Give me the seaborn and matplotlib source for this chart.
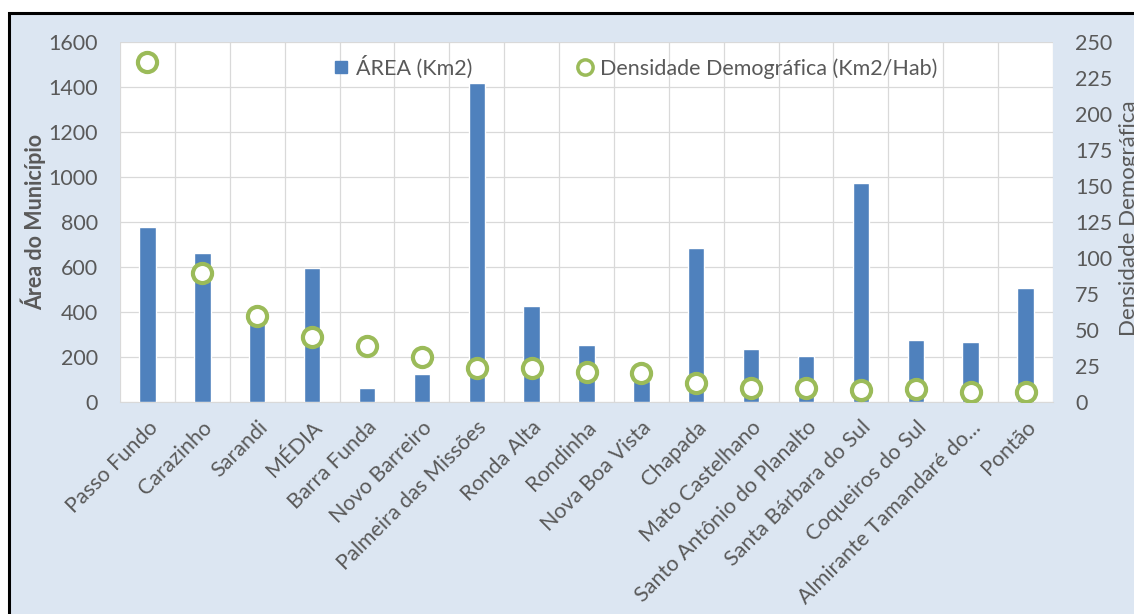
import numpy as np
import matplotlib
matplotlib.use("Agg")
import matplotlib.pyplot as plt
from matplotlib.patches import Rectangle
from matplotlib.lines import Line2D
import seaborn as sns

# Data
municipios = ["Passo Fundo", "Carazinho", "Sarandi", "MÉDIA", "Barra Funda",
              "Novo Barreiro", "Palmeira das Missões", "Ronda Alta", "Rondinha",
              "Nova Boa Vista", "Chapada", "Mato Castelhano",
              "Santo Antônio do Planalto", "Santa Bárbara do Sul",
              "Coqueiros do Sul", "Almirante Tamandaré do...", "Pontão"]
area_km2 = [780, 661, 370, 597, 62, 125, 1416, 427, 253, 93, 686, 237, 204,
            975, 276, 265, 507]
densidade = [236.3, 89.4, 59.7, 45.4, 38.9, 31.5, 23.4, 23.8, 21.0, 20.3, 13.0,
             9.5, 9.5, 8.3, 8.8, 6.7, 6.7]
yticks_left = [0, 200, 400, 600, 800, 1000, 1200, 1400, 1600]
yticks_right = [0, 25, 50, 75, 100, 125, 150, 175, 200, 225, 250]

blue = "#4f81bd"
green = "#9bbb59"
txt = "#595959"
gridc = "#d9d9d9"

sns.set_style("white")
plt.rcParams["font.family"] = ["Lato", "DejaVu Sans"]
plt.rcParams["hatch.color"] = "#d6d6d6"
plt.rcParams["hatch.linewidth"] = 0.6

fig = plt.figure(figsize=(11.34, 6.14), dpi=100, facecolor="white")
# outer chart frame (light blue with black border on left/top)
fig.patches.append(Rectangle((8.5 / 1134, -0.1), 1.2, 1 - 12.5 / 614 + 0.1,
                             transform=fig.transFigure, facecolor="#dce6f2",
                             edgecolor="black", linewidth=2.2, zorder=-10))

ax = fig.add_axes([120 / 1134, 1 - 402 / 614, 933 / 1134, 360 / 614])
ax.set_facecolor("white")
ax.add_patch(Rectangle((0, 0), 1, 1, transform=ax.transAxes, facecolor="none",
                       edgecolor="none", hatch="\\\\\\\\\\", zorder=0))

x = np.arange(len(municipios))
sns.barplot(x=municipios, y=area_km2, color=blue, width=0.3, saturation=1,
            ax=ax, zorder=3)
ax.set_xlim(-0.5, len(municipios) - 0.5)
ax.set_ylim(0, 1600)
ax.set_yticks(yticks_left)
ax.set_xticks(x)
ax.set_xticklabels(municipios, rotation=45, ha="right", rotation_mode="anchor",
                   fontsize=15.5, color=txt)
ax.set_xticks(np.arange(len(municipios) + 1) - 0.5, minor=True)
ax.tick_params(axis="x", which="major", length=0, pad=11)
ax.tick_params(axis="x", which="minor", length=7, color=gridc, width=1)
ax.tick_params(axis="y", length=0, pad=16, labelsize=15.5, labelcolor=txt)
ax.grid(True, axis="y", which="major", color=gridc, linewidth=0.9, zorder=1)
ax.grid(True, axis="x", which="minor", color=gridc, linewidth=0.9, zorder=1)
ax.set_axisbelow(True)
for s in ["top", "right", "left"]:
    ax.spines[s].set_visible(False)
ax.spines["bottom"].set_color(gridc)
ax.set_xlabel("")
ax.set_ylabel("")

ax2 = ax.twinx()
sns.scatterplot(x=x, y=densidade, ax=ax2, marker="o", s=190, facecolor="white",
                edgecolor=green, linewidth=3, zorder=4)
ax2.set_ylim(0, 250)
ax2.set_yticks(yticks_right)
ax2.tick_params(axis="y", length=0, pad=16, labelsize=15.5, labelcolor=txt)
for s in ["top", "right", "left", "bottom"]:
    ax2.spines[s].set_visible(False)
ax2.set_ylabel("")

fig.text(33 / 1134, 1 - 222 / 614, "Área do Município", rotation=90,
         ha="center", va="center", fontsize=15.5, fontweight="bold", color=txt)
fig.text(1119 / 1134, 1 - 218 / 614, "Densidade Demográfica", rotation=90,
         ha="left", va="center", fontsize=16, color=txt)

handles = [Line2D([], [], marker="s", linestyle="none", markersize=9,
                  markerfacecolor=blue, markeredgecolor=blue),
           Line2D([], [], marker="o", linestyle="none", markersize=11,
                  markerfacecolor="white", markeredgecolor=green,
                  markeredgewidth=2.5)]
ax2.legend(handles, ["ÁREA (Km2)", "Densidade Demográfica (Km2/Hab)"],
           loc="center", bbox_to_anchor=(0.552, 0.93), ncol=2, frameon=False,
           fontsize=15.5, labelcolor=txt, handlelength=0.8, handletextpad=0.3,
           columnspacing=4.8)

fig.savefig("out.png", dpi=100, facecolor=fig.get_facecolor())
